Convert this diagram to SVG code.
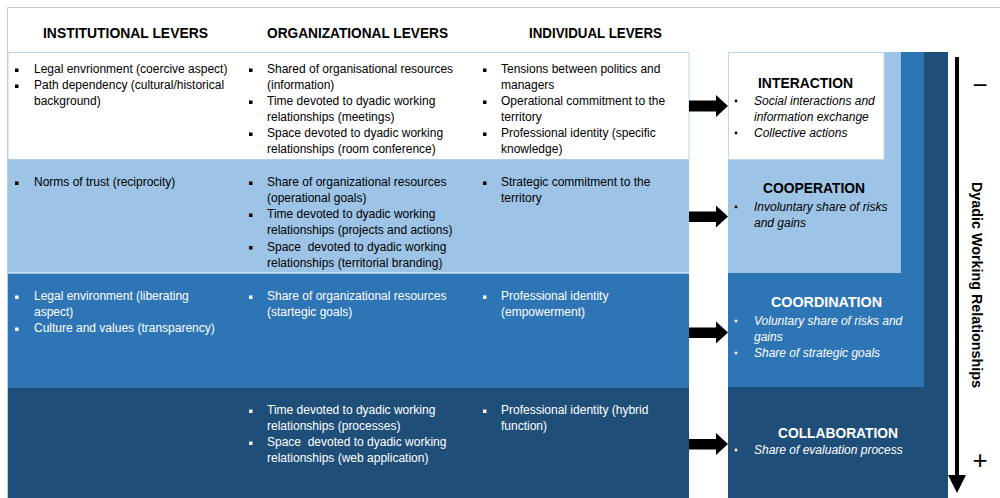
<svg xmlns="http://www.w3.org/2000/svg" width="1000" height="498" viewBox="0 0 1000 498">
<style>
.hd{font-family:"Liberation Sans",Arial,sans-serif;font-weight:bold;font-size:15px;fill:#000}
.tx{font-family:"Liberation Sans",Arial,sans-serif;font-size:12px;white-space:pre}
.it{font-family:"Liberation Sans",Arial,sans-serif;font-size:12px;font-style:italic}
.ti{font-family:"Liberation Sans",Arial,sans-serif;font-weight:bold;font-size:15px;text-anchor:middle}
.sg{font-family:"Liberation Sans",Arial,sans-serif;font-size:26px;text-anchor:middle;fill:#000}
.dk{fill:#000}
.wh{fill:#fff}
</style>
<rect x="0" y="0" width="1000" height="498" fill="#fff"/>
<path d="M7.5 498 V7.5 H1000" fill="none" stroke="#c8c8c8" stroke-width="1"/>

<g id="headers">
<text class="hd" x="43" y="38" textLength="165" lengthAdjust="spacingAndGlyphs">INSTITUTIONAL LEVERS</text>
<text class="hd" x="267" y="38" textLength="181" lengthAdjust="spacingAndGlyphs">ORGANIZATIONAL LEVERS</text>
<text class="hd" x="529" y="38" textLength="133" lengthAdjust="spacingAndGlyphs">INDIVIDUAL LEVERS</text>
</g>

<g id="band-interaction">
<rect x="8" y="52.5" width="681" height="107" fill="#fff" stroke="#bdd7ee" stroke-width="1"/>
<g class="dk">
<rect x="15" y="68.5" width="3.5" height="3.5"/><rect x="15" y="84.5" width="3.5" height="3.5"/>
<rect x="249" y="68.5" width="3.5" height="3.5"/><rect x="249" y="100.5" width="3.5" height="3.5"/><rect x="249" y="132.5" width="3.5" height="3.5"/>
<rect x="483" y="68.5" width="3.5" height="3.5"/><rect x="483" y="100.5" width="3.5" height="3.5"/><rect x="483" y="132.5" width="3.5" height="3.5"/>
</g>
<g class="tx dk">
<text x="34" y="73">Legal envrionment (coercive aspect)</text>
<text x="34" y="89">Path dependency (cultural/historical</text>
<text x="34" y="105">background)</text>
<text x="267" y="73">Shared of organisational resources</text>
<text x="267" y="89">(information)</text>
<text x="267" y="105">Time devoted to dyadic working</text>
<text x="267" y="121">relationships (meetings)</text>
<text x="267" y="137">Space devoted to dyadic working</text>
<text x="267" y="153">relationships (room conference)</text>
<text x="501" y="73">Tensions between politics and</text>
<text x="501" y="89">managers</text>
<text x="501" y="105">Operational commitment to the</text>
<text x="501" y="121">territory</text>
<text x="501" y="137">Professional identity (specific</text>
<text x="501" y="153">knowledge)</text>
</g>
</g>

<g id="band-cooperation">
<rect x="8" y="159.5" width="681" height="113" fill="#9dc3e6"/>
<g class="dk">
<rect x="15" y="181.5" width="3.5" height="3.5"/>
<rect x="249" y="181.5" width="3.5" height="3.5"/><rect x="249" y="213.5" width="3.5" height="3.5"/><rect x="249" y="246" width="3.5" height="3.5"/>
<rect x="483" y="181.5" width="3.5" height="3.5"/>
</g>
<g class="tx dk">
<text x="34" y="186">Norms of trust (reciprocity)</text>
<text x="267" y="186">Share of organizational resources</text>
<text x="267" y="202">(operational goals)</text>
<text x="267" y="218">Time devoted to dyadic working</text>
<text x="267" y="234">relationships (projects and actions)</text>
<text x="267" y="251" xml:space="preserve">Space  devoted to dyadic working</text>
<text x="267" y="267">relationships (territorial branding)</text>
<text x="501" y="186">Strategic commitment to the</text>
<text x="501" y="202">territory</text>
</g>
</g>

<g id="band-coordination">
<rect x="8" y="273" width="681" height="114" fill="#2e75b6"/>
<line x1="8" y1="273.5" x2="689" y2="273.5" stroke="#9dc3e6" stroke-width="1"/>
<g class="wh">
<rect x="15" y="295.5" width="3.5" height="3.5"/><rect x="15" y="327.5" width="3.5" height="3.5"/>
<rect x="249" y="295.5" width="3.5" height="3.5"/>
<rect x="483" y="295.5" width="3.5" height="3.5"/>
</g>
<g class="tx wh">
<text x="34" y="300">Legal environment (liberating</text>
<text x="34" y="316">aspect)</text>
<text x="34" y="332">Culture and values (transparency)</text>
<text x="267" y="300">Share of organizational resources</text>
<text x="267" y="316">(startegic goals)</text>
<text x="501" y="300">Professional identity</text>
<text x="501" y="316">(empowerment)</text>
</g>
</g>

<g id="band-collaboration">
<rect x="8" y="387" width="681" height="111" fill="#1f4e79"/>
<line x1="8" y1="387.5" x2="689" y2="387.5" stroke="#2e75b6" stroke-width="1"/>
<g class="wh">
<rect x="249" y="409.5" width="3.5" height="3.5"/><rect x="249" y="441.5" width="3.5" height="3.5"/>
<rect x="483" y="409.5" width="3.5" height="3.5"/>
</g>
<g class="tx wh">
<text x="267" y="414">Time devoted to dyadic working</text>
<text x="267" y="430">relationships (processes)</text>
<text x="267" y="446" xml:space="preserve">Space  devoted to dyadic working</text>
<text x="267" y="462">relationships (web application)</text>
<text x="501" y="414">Professional identity (hybrid</text>
<text x="501" y="430">function)</text>
</g>
</g>

<g id="stack">
<rect x="728" y="52" width="220" height="446" fill="#1f4e79"/>
<rect x="728" y="52" width="196" height="335" fill="#2e75b6"/>
<rect x="728" y="52" width="173" height="221" fill="#9dc3e6"/>
<rect x="728.5" y="52.5" width="155.5" height="107" fill="#fff" stroke="#bdd7ee" stroke-width="1"/>
</g>

<g id="node-interaction">
<text class="ti dk" x="805.5" y="88" textLength="95" lengthAdjust="spacingAndGlyphs">INTERACTION</text>
<circle class="dk" cx="736" cy="101" r="1.4"/><circle class="dk" cx="736" cy="133" r="1.4"/>
<g class="it dk">
<text x="754" y="105">Social interactions and</text>
<text x="754" y="121">information exchange</text>
<text x="754" y="137">Collective actions</text>
</g>
</g>

<g id="node-cooperation">
<text class="ti dk" x="814" y="193" textLength="102" lengthAdjust="spacingAndGlyphs">COOPERATION</text>
<circle class="dk" cx="736" cy="207" r="1.4"/>
<g class="it dk">
<text x="754" y="211">Involuntary share of risks</text>
<text x="754" y="227">and gains</text>
</g>
</g>

<g id="node-coordination">
<text class="ti wh" x="826.5" y="307" textLength="111" lengthAdjust="spacingAndGlyphs">COORDINATION</text>
<circle class="wh" cx="736" cy="321" r="1.4"/><circle class="wh" cx="736" cy="353" r="1.4"/>
<g class="it wh">
<text x="754" y="325">Voluntary share of risks and</text>
<text x="754" y="341">gains</text>
<text x="754" y="357">Share of strategic goals</text>
</g>
</g>

<g id="node-collaboration">
<text class="ti wh" x="838" y="438" textLength="120" lengthAdjust="spacingAndGlyphs">COLLABORATION</text>
<circle class="wh" cx="736" cy="450" r="1.4"/>
<g class="it wh">
<text x="754" y="454">Share of evaluation process</text>
</g>
</g>

<g id="axis">
<text class="hd" transform="translate(972,285) rotate(90)" text-anchor="middle" textLength="206" lengthAdjust="spacingAndGlyphs">Dyadic Working Relationships</text>
<text class="sg" x="980" y="94">−</text>
<text class="sg" x="980" y="469">+</text>
</g>

<g id="connectors" fill="#000">
<polygon points="689,100.5 716,100.5 716,95 728,106 716,117 716,111.5 689,111.5"/>
<polygon points="689,211.5 716,211.5 716,205.5 728,216.5 716,227.5 716,222 689,222"/>
<polygon points="689,327.5 716,327.5 716,321.5 728,332.5 716,343.5 716,338 689,338"/>
<polygon points="689,439 716,439 716,433 728,444 716,455 716,449.5 689,449.5"/>
<line x1="957" y1="57" x2="957" y2="478" stroke="#000" stroke-width="4"/>
<polygon points="948,475 966,475 957,493"/>
</g>
</svg>
